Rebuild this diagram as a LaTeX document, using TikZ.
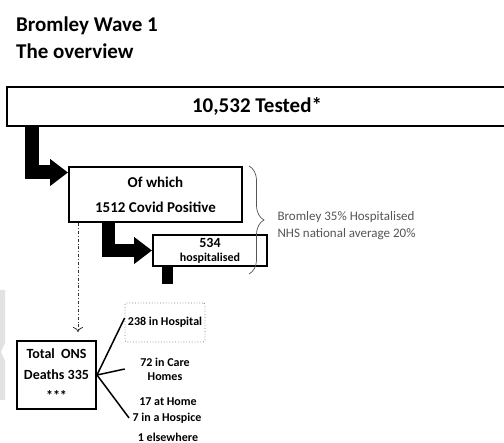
\documentclass[tikz,border=0pt]{standalone}
\usepackage{fontspec}
\setmainfont{Carlito}
\usetikzlibrary{arrows.meta,decorations.pathreplacing,calc,positioning}

\definecolor{notegray}{HTML}{555555}
\definecolor{stripgray}{HTML}{E2E2E2}

\tikzset{
  box/.style={draw,line width=2pt,inner sep=0pt,align=center,font=\bfseries},
  bigarrow/.style={line width=#1,line join=miter,-{Triangle[length=18pt,width=26pt]}},
  place/.style={align=center,font=\fontsize{12}{14}\selectfont\bfseries},
}

\begin{document}
\begin{tikzpicture}[x=1pt,y=-1pt]
       \clip (0,0) rectangle (504,443);
       \fill[white] (0,0) rectangle (504,443);
       \fill[stripgray] (0,290) -- (5,290) -- (5,343) -- (1,352) -- (5,361) -- (5,400) -- (0,400) -- cycle;
       \node[anchor=north west,align=left,inner sep=3pt,font=\fontsize{21}{27}\selectfont\bfseries] (title) at (13,13.5) {Bromley Wave 1\\The overview};
       \node[box,minimum width=500pt,minimum height=39pt,font=\fontsize{21}{25}\selectfont\bfseries] (tested) at (257,106.5) {10,532 Tested*};
       \node[box,minimum width=173pt,minimum height=55pt,font=\fontsize{15}{25}\selectfont\bfseries] (positive) at (155.5,194.5) {Of which\\1512 Covid Positive};
       \node[box,minimum width=114pt,minimum height=31pt,font=\fontsize{12}{14}\selectfont\bfseries] (hosp) at (210,250.5) {{\fontsize{14}{14}\selectfont 534}\\hospitalised};
       \node[box,minimum width=79pt,minimum height=68pt,font=\fontsize{14}{21}\selectfont\bfseries] (deaths) at (56.5,375) {Total\ \ ONS\\Deaths 335\\***};
       \node[place,draw=gray,dotted,line width=0.8pt,rounded corners=2pt,minimum width=80pt,minimum height=39pt,inner sep=0pt] (inhosp) at (165,322.5) {238 in Hospital};
       \node[place] (carehomes) at (165,369) {72 in Care\\Homes};
       \node[place] (athome) at (168,402) {17 at Home};
       \node[place] (hospice) at (167,418) {7 in a Hospice};
       \node[place] (elsewhere) at (168,437) {1 elsewhere};
       \node[anchor=west,align=left,text=notegray,font=\fontsize{13}{17}\selectfont] (note) at (274,226) {Bromley 35\% Hospitalised\\NHS national average 20\%};
       \coordinate (braceTop) at (249,166);
       \coordinate (braceBot) at (249,274);
       \coordinate (stub) at (167.5,284);
       \draw[notegray,line width=0.7pt,decorate,decoration={brace,amplitude=15pt,aspect=0.5}] (braceTop) -- (braceBot);
       \draw[bigarrow=14pt] (tested.south -| 32,0) |- ($(positive.north west)+(0,6.5)$);
       \draw[bigarrow=13pt] (positive.south -| 108.5,0) |- (hosp.west);
       \draw[line width=11pt] (hosp.south -| stub) -- (stub);
       \draw[gray!40!black,line width=0.8pt,dash dot,-{To[length=5pt,width=10pt]},shorten >=8pt] (positive.south -| 78,0) -- (deaths.north -| 78,0);
       \draw[line width=1.5pt] (deaths.east) -- ($(inhosp.west)+(0,-4.5)$);
       \draw[line width=1.5pt] (deaths.east) -- ($(carehomes.west)+(-12,0)$);
       \draw[line width=1.5pt] (deaths.east) -- (hospice.west);
     \end{tikzpicture}
\end{document}
